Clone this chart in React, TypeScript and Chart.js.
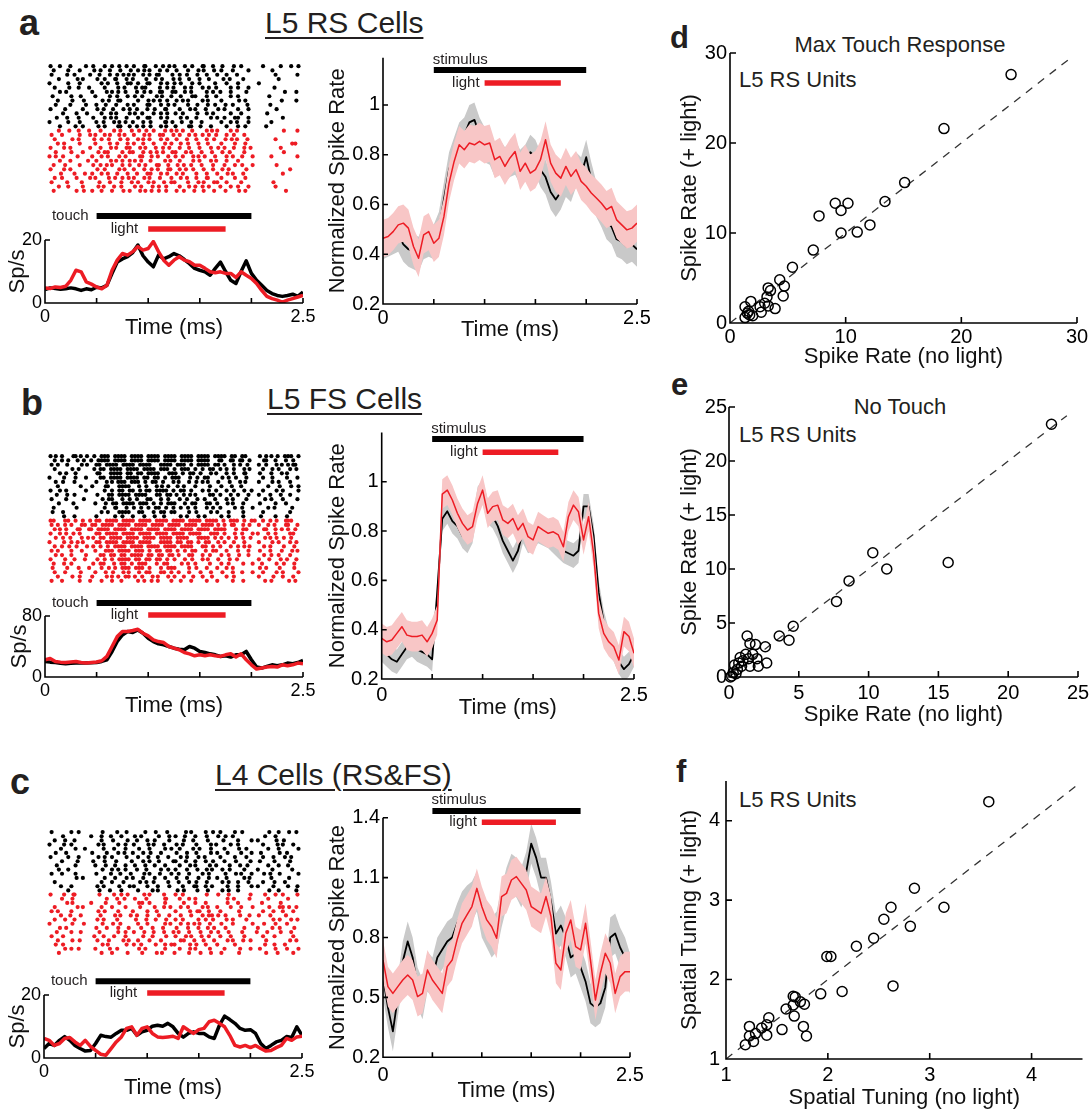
import React, { useEffect, useRef } from 'react';
import { Chart, registerables } from 'chart.js';

Chart.register(...registerables);

const FONT = "'Liberation Sans', Arial, Helvetica, sans-serif";
Chart.defaults.font.family = FONT;
Chart.defaults.color = '#000';

const RED = '#ed1c24';
const PINK = '#f8c6c6';
const GRAY = '#c9c9c9';

// ---------------- data ----------------
const TIME = Array.from({ length: 51 }, (_, i) => Math.round(i * 5) / 100); // 0 .. 2.5 grid
const T_END = 2.5;
const STIM_ON = 0.5;
const STIM_OFF = 2.0;
const LIGHT_ON = 1.0;
const LIGHT_OFF = 1.75;
const X_TICKS = [0, 0.5, 1, 1.5, 2, 2.5];

// raster rows: 60 time bins per trial; digit 1-4 = spike at that quarter of the bin
const RASTER_A_BLACK = [
  "2.3..1..4. 3..2.14.3. 2.41.3.24. 1.3.2.41.2 .3..2.1... .2...3..14",
  ".1..3..2.. 4.2.3..1.3 .24.1.3.2. 3..2.4.1.3 .2..1..4.. ...3......",
  "3...2.1..4 ..1.3.24.1 2.3.142..3 .2.1.3.4.. 2.3..1.... ....2....3",
  "..2...4.1. .3.2.41.3. 1..2.3.1.4 .2.3..1.2. .4.2..3... .....1....",
  "1...3..2.. ..3.1.2.43 .2.31.4.2. 13..2.1..4 ..3..2.... 2.........",
  ".2..4..1.3 ...2..3.1. 4.21..3.24 ..3.1.4.2. 1..3.2.4.. ....1.....",
  "..3.1..... 2..4.13.2. .14.2.31.3 2.3.1..4.2 .1.3...2.. ......3..2",
  "4....2.3.. .1..3.2.4. 3.2..4.1.2 .3..21.4.. 1..3.2.... ..4.......",
  "..1..3..2. ..4.2.31.. .2.4.13.2. 3.12..4.1. .2...3.1.. .....4...2",
  ".3...1..4. .2.3..1.4. 2..31.4.3. 1..2.3..14 ..2.1..3.. ...1......",
  "2..4....1. .3.1.2.4.2 .1.3.2.41. .2.4.1.3.. 3.1..2.4.. ....3.....",
  "...2..3..1 ..3.4.1..2 3.2..14.2. 2.1..3.4.2 ...3..1... ..2.......",
  ".4..2..1.. 3..24.1.3. .2.31.4.2. .3.1.2..4. 2.1.32.4.. ......1...",
  "1...3..2.. .2.1.34.2. 1.3.2..413 .4..1.3... .2.3.1.4.. ...2......",
  "..3...2.1. .4.2..31.2 .13.2.4.1. 2..31.2.4. ..3..2.1.. ..1.......",
];
const RASTER_A_RED = [
  "..2.4..1.3 ..2..3.1.4 .3.2.1.4.2 3.1.2..4.1 2..3.1.... ......2..3",
  "3..1...2.4 .1.23.4.1. 2.4.1.32.4 .2.3.14.2. 1.3.2.4... ..........",
  ".2...3.1.. 4.3.2..14. .23.1.4.2. 3..1.2.4.3 ..24.1.3.. ....2.....",
  "..13...2.. .1..3.2.4. 2.3..1.4.2 .3.2.4..1. .2..3..1.. ........21",
  "2..3.1...4 ..2.4.1.32 .4.1.3.24. .2.3..1.4. 3.1.2.4.2. .....3....",
  ".3...2..1. .4.21..3.2 1.3.24.2.3 2.4.1.3..1 .3.2..4... ......2...",
  "13.2..4... 2.3.1.4.2. .42.3.1.3. 2.1.34.2.4 ..3.1.2.4. ...2.....3",
  "..3..1...2 .2..4.13.2 3.1.2..4.1 .2..3.1.4. 1.3..2.... ..........",
  ".1.4...2.. 3.24.1.3.2 .3.1.42.3. 4.2.1.3..2 ..1.3.2.4. ....3.....",
  "2..3.1.... .3.2..4.1. 2.4.3.1.31 .24.3..1.2 .3.1...2.. .......4..",
  "..4...1.3. 2.3.1.2.4. .1.32.4.2. 3.1..2.4.. 2.4.1.3... ......1...",
  ".2.1..3..4 .1..24.3.1 2.4.1.3..2 .3.1.2.41. .2..3..1.. ..........",
  "3...2..4.. ..1.3..2.4 .2.4.1.3.2 1..2.4.1.3 2.3...1... ...4......",
  "..2.3...1. .4.1.3.2.. 3.1.4.2.1. .2.3.14.2. .1.3.2.4.. ....2.....",
  ".1....3.2. 2.3..1.4.2 .4.13.2.1. 3.2.4..1.3 ..2..3.1.. ......4...",
];
const RASTER_B_BLACK = [
  "23.1.423.1 4.32143214 3214321432 1432143214 32143.21.. 3.124.3214",
  ".2.13.4.2. 1432143214 3214321432 143214321. 42.3142.1. .31.2.4.3.",
  "3.1.2..4.1 .214321432 14321.4321 432.143214 3.1.24.3.. 2.1.34.231",
  ".2...3.1.. 4.21432143 214321432. 1432.14.32 .13.2.4.1. .2.3.1.4.2",
  "..3.1.2... .31.432143 .214321.43 2.143.2.4. 1.3.2.41.. 3..2.4.1..",
  "1..3..2.4. ..21432143 2143.214.3 21.4.3.21. .3.14..2.. .2.3...1.3",
  ".3.2..1... .2.4.13214 32.143.2.4 .1.3.24.1. 3..2.4.1.. 2..3.1.4..",
  "..1....3.. 2..31.4321 .3.2.4.13. 4.2..1..3. .2.4..1... ..3..2..14",
  "2.3.1...4. ...2.143.2 14.2143214 .32.1.4.2. 1.3.2.4.3. .2..3.1..4",
  ".4..2.1... .3..214321 4321.43.21 3.24.1..32 .1.3.2.4.. 2..1.3.4..",
  "3...1...2. ..4.21.3.2 .1.32.4.3. .2.1.3.2.4 ..3.1..2.. .4.2..1..3",
  "..2..4.... .1.3.21432 1432.14.32 1.3.21.43. 2.4.1.3... 3...2.4...",
  ".1....3... ...2.41.3. 2.14.32.14 .3.2.1.4.2 .1..3.2.4. ..3.1...2.",
  "4..2...... ..3.1.4321 .32..143.2 1..3.2..4. 2..1..3... .2.....4..",
  "...3..1... .2...4.3.. 1.4..2.3.. .3.1.4.2.. .2.1..3... 4...2..1..",
];
const RASTER_B_RED = [
  "21.43.2.14 .214321432 1432143214 3214321432 14.3214.32 .2.13.421.",
  "3.14.2.43. 2143214321 4321432143 2143214321 3.142.3.1. 2.3.1.42.3",
  ".23.1.42.3 1432143214 3214321432 1432143214 321.4.32.. .31.24.2.1",
  "2.3.14.2.. .214321432 1432143214 3214321.43 2.1.3.2.4. 1.3.2..43.",
  ".3.2.1.4.2 3.21432143 2143214321 4321.43214 .2.14.3.2. .4.13.2.1.",
  "1..3.24.1. .214321432 14321.4321 43.214.32. 3.1.2.4... 2..3.1.4.2",
  ".2.14.3..1 3.2.143214 3214321432 14321.43.2 .1.3.24.1. .3.1..2.4.",
  "3.1..2.4.. .1.3214321 432.143.21 4.3.21.3.2 1.3..2.4.. 3..1.4..23",
  ".3.1.2..4. ..2143.214 32143.2143 .1.32.4.3. .2.1.3.4.. .3.2.1.4..",
  "2..4..1.3. .3.2.14321 43.2143.2. 1.3.2.4.1. 3..2.1.... 2.4..3.1.2",
  ".1.3.2.... 3.21.3.214 .321.4.32. .4.2.1..3. .2.1..3.4. .1..3.2.4.",
  "4...2..1.3 ..3.24.321 432.1.4.32 1..3.2.4.. 2.3.1..... 3.1..2..4.",
  ".2.4...3.. .1.3.2.4.1 .3.21.43.2 .1.3..2.4. .3..1.2.4. .2..3.1..4",
  "..1..3.2.. 2..4.13.21 3.2.4.1.3. 1.2.3.4..1 ..3.2..... 2..4..1.3.",
  "3..1...2.4 ..3..1.2.. .24.3.1..2 .3..1..4.. 2...1.3... .4.2...3.1",
];
const RASTER_C_BLACK = [
  "3....2.1.. ..4...2.3. ...1.3..2. ..4.1..3.2 .1..3.2... ..4..1.3.2",
  "...2...... 1.3.4..2.. 3.1...2.4. 2.3..1.4.. 3.2.1..... .4..2.....",
  ".2.4..1... ..3..2..4. .1.3.2..4. ..2.3...1. .4...2..3. 1...3.2...",
  "1..3.2.... .4.1..3.2. 2..4.1.3.. 3.1..2..4. 1..3.2.... .2..4.1.3.",
  "..4...2.3. ...1.3..2. .3..1..4.2 .2..3.1.4. ..1..3.2.. ..3..1...4",
  ".3..1..... 2..4..3.1. 1.3.2.4... 3..1.2..4. 2.4...1.3. 4....2.1..",
  "2...3..1.. .4.2.1..3. .2.4..1.3. .3.1.4.2.. .1..3..2.. .2.4..3.1.",
  "...1..4... 3..2..1..4 ..3.1.2..4 2.4..1.3.2 ..1.4...2. 3...1..4..",
  ".4....2... .1.3.4..2. 3..1.2.4.. .2.4.1..3. 1..2.4.3.. ..3..1.2..",
  "..2.3..... ..4..13.2. .1.2..4.3. 2..1.3.4.1 .3.2..4... 1..3....2.",
  "3..1..2... .2..4..1.3 ..4.1.3..2 .1.3..4.2. ..2.4.1.3. .3.1.2...4",
  "......3.1. ...2.4..3. 1.3..2.4.. 3..1.4..2. 2.3...4.1. ...2...3..",
  ".2........ ..3..1.4.. .4.2.1..3. .1.3.2.4.. .3.1.2.4.. .2..1.3...",
  "..4..2.... .3.1..4..2 2..3..1.4. ..1.42.3.1 ..4..2..3. 1..4...2.3",
  "....3..... ..1.3..2.. .2..4.1... 4.2..3..1. .3.1.2.... ..4..1...2",
];
const RASTER_C_RED = [
  "2..3.41... ..1..3.24. ..4.1..3.. 2.1....4.. 3..1....2. .4..2.1..3",
  "...1.3.... ...4..2.1. 3..2...41. .2.3.1.... ..4.2...1. ..3....2..",
  "....23.... 1..3..4... .32.1..4.. ..2..1.3.. ..4..2.... .1...3....",
  ".2....4.1. ..3..1..2. .4...2.3.1 .3.2..4.1. 2..3..1.4. ..4..213.2",
  "3.1..2.... .4.2..3... 1..3.4.... 2..4.31.2. .1...3.... .2.4..1.3.",
  "..4..1.3.. ..2..4.1.3 .1.3..2.4. .3..1.4.21 3.2..4..1. 2..1..4...",
  ".2.4..1... .3.1..2... 4..2.3..1. 2.1..4.3.2 ..3.1..2.. ...4.2..13",
  "1....3..2. ..4..2.1.. .2.3...4.1 .3.24.1.3. .2..1...4. .3..2..1..",
  "..3.1..... .2.4..3..1 ..1.4..2.. 3..2.4..13 ..2...4... 1..3.2..4.",
  ".4...2.3.. ..1...3.2. 2.4..1.3.4 .1.3..2.4. 3..1..2..4 ..2..3..1.",
  "3..2...... 4..1.3..2. ..3.4...1. 2.4.1.3.2. .1.3..4... .2..1...3.",
  "..1..3.2.. .3..2..4.1 .2..1.4... .32.4..1.3 ..4.1.3.2. ..1....4.2",
  ".3.2...... ..4.1...3. 2.1..3.4.2 1..4.2.3.. 2...3..... .4..1.3...",
  "...4.2.1.. .1..3.2... .3.1...4.. .2.4.1..3. ..1..4..2. 3...2..1.4",
  "..2....... ..3..1..4. ..2..4.1.. 1..3..2.4. .2...3.... ..1.4...3.",
];

// PSTH (spikes/s) on TIME grid
const PSTH_A_BLACK = [4.3, 4.8, 4.6, 4.4, 4.5, 4.8, 4.5, 4.0, 4.5, 4.2, 5.0, 4.8, 5.6, 9.4, 13, 14, 14.7, 16, 18.4, 15, 13, 11.5, 15.2, 14, 14.7, 15.7, 15, 13.8, 12.5, 11, 10.4, 9.9, 8.8, 11, 13, 10, 7.2, 6.2, 10, 13.4, 9.4, 7.2, 5.6, 4, 3, 2.4, 2.1, 2.4, 2.8, 2.1, 3.5];
const PSTH_A_RED = [4.8, 4.6, 5.1, 4.9, 5.3, 7.2, 10.4, 9.9, 6.7, 6, 5.1, 4.5, 5.6, 10.4, 13.6, 15.7, 15.2, 16.3, 17.9, 16.8, 17.3, 19.5, 16.3, 13.6, 12, 13.6, 14.7, 13.6, 13.1, 12, 12, 11, 9.9, 9.6, 9.9, 9.4, 9.4, 8.1, 9.9, 8.8, 7.8, 6.2, 4, 2.1, 1.4, 0.9, 0.3, 0.9, 1.4, 1.9, 2.4];
const PSTH_B_BLACK = [20.4, 19.5, 19, 18, 17.4, 18, 18.3, 18.5, 18.3, 18.8, 19, 20.4, 22.6, 33.5, 46.5, 55.2, 59.6, 58.3, 61.7, 57.4, 50.9, 46.5, 43.5, 42.2, 40, 37.8, 36.5, 35.7, 40, 37.8, 33.5, 32.2, 30.4, 29.1, 27, 27.8, 26.1, 29.1, 29.1, 33.5, 22.6, 13, 11.7, 13.9, 16, 14.8, 16, 18.3, 17.4, 19, 21.7];
const PSTH_B_RED = [22.6, 24.3, 20.4, 19.5, 19, 19.8, 20.4, 19, 18.3, 19, 19.6, 21.3, 27, 40, 53, 59.6, 59.6, 60.9, 62.6, 57.4, 53.9, 48.7, 46.5, 45.2, 40, 37.8, 35.7, 32.2, 30.4, 27.8, 29.1, 27.8, 29.1, 27.8, 27, 29.1, 30.4, 26.1, 30.4, 22.6, 16, 10.4, 11.7, 13, 13.9, 13, 16, 14.8, 16, 18.3, 17.4];
const PSTH_C_BLACK = [3, 4.6, 4, 5.6, 6.8, 5.6, 4, 3, 2.2, 2.4, 4.6, 7.2, 6.8, 6.6, 7.8, 8.8, 8.8, 9.4, 7.2, 8.3, 8.8, 10.1, 10.4, 10.1, 11, 9.9, 7.8, 6.6, 7.8, 8.3, 7.8, 7.8, 6.7, 6.2, 10.4, 13.3, 12.2, 11, 9.4, 8.8, 9, 7.8, 4.6, 3, 4, 5.1, 5.6, 6.8, 6.5, 9.9, 7.2];
const PSTH_C_RED = [6.2, 5.6, 4, 4.6, 6.2, 6.5, 5.1, 4, 5.6, 3.7, 2.4, 1.2, 0.9, 3, 5.1, 6.7, 9.4, 9.9, 7.2, 9.4, 9.9, 7.8, 6.7, 6.5, 6.7, 6.9, 6.2, 9.9, 8.8, 7.8, 9, 9.4, 11.5, 12, 11, 9.9, 7.2, 4, 3.5, 4, 3.3, 4, 3, 2.2, 2.4, 3.3, 4, 6.2, 5.6, 6.7, 6.9];

// normalized population rate on TIME grid
const NORM_A_BLACK = [0.45, 0.46, 0.47, 0.48, 0.44, 0.42, 0.41, 0.40, 0.45, 0.46, 0.45, 0.50, 0.62, 0.74, 0.80, 0.86, 0.88, 0.93, 0.94, 0.88, 0.84, 0.83, 0.78, 0.79, 0.76, 0.78, 0.79, 0.75, 0.77, 0.81, 0.79, 0.74, 0.71, 0.65, 0.62, 0.65, 0.70, 0.68, 0.74, 0.72, 0.79, 0.70, 0.62, 0.58, 0.53, 0.51, 0.46, 0.45, 0.43, 0.44, 0.42];
const NORM_A_RED = [0.464, 0.471, 0.491, 0.518, 0.525, 0.505, 0.431, 0.384, 0.478, 0.491, 0.444, 0.464, 0.552, 0.686, 0.773, 0.840, 0.820, 0.847, 0.840, 0.854, 0.840, 0.847, 0.780, 0.793, 0.753, 0.787, 0.813, 0.733, 0.766, 0.726, 0.740, 0.780, 0.860, 0.766, 0.726, 0.706, 0.753, 0.713, 0.740, 0.693, 0.673, 0.646, 0.626, 0.605, 0.579, 0.592, 0.538, 0.518, 0.498, 0.505, 0.525];
const NORM_B_BLACK = [0.32, 0.30, 0.28, 0.27, 0.30, 0.33, 0.34, 0.32, 0.31, 0.30, 0.28, 0.55, 0.85, 0.88, 0.84, 0.82, 0.78, 0.76, 0.80, 0.93, 0.96, 0.88, 0.86, 0.82, 0.76, 0.72, 0.68, 0.72, 0.80, 0.76, 0.77, 0.80, 0.79, 0.78, 0.76, 0.74, 0.72, 0.71, 0.70, 0.72, 0.90, 0.90, 0.78, 0.55, 0.43, 0.35, 0.32, 0.27, 0.24, 0.26, 0.30];
const NORM_B_RED = [0.365, 0.351, 0.358, 0.385, 0.412, 0.378, 0.372, 0.372, 0.378, 0.351, 0.385, 0.439, 0.95, 0.966, 0.926, 0.872, 0.831, 0.804, 0.818, 0.912, 0.966, 0.872, 0.899, 0.905, 0.845, 0.831, 0.851, 0.804, 0.831, 0.777, 0.764, 0.818, 0.804, 0.791, 0.797, 0.784, 0.736, 0.858, 0.905, 0.878, 0.764, 0.858, 0.709, 0.466, 0.385, 0.351, 0.331, 0.277, 0.392, 0.372, 0.304];
const NORM_C_BLACK = [0.60, 0.45, 0.33, 0.50, 0.68, 0.78, 0.70, 0.55, 0.49, 0.63, 0.60, 0.70, 0.74, 0.78, 0.80, 0.87, 0.93, 0.96, 0.98, 1.03, 0.90, 0.85, 0.80, 0.83, 0.95, 1.05, 1.12, 1.10, 1.05, 1.13, 1.27, 1.20, 1.10, 1.10, 0.98, 0.82, 0.86, 0.80, 0.70, 0.72, 0.65, 0.58, 0.47, 0.45, 0.47, 0.55, 0.80, 0.82, 0.75, 0.70, 0.62];
const NORM_C_RED = [0.687, 0.554, 0.52, 0.554, 0.587, 0.612, 0.587, 0.504, 0.52, 0.637, 0.587, 0.554, 0.52, 0.654, 0.687, 0.788, 0.871, 0.913, 0.955, 1.046, 0.955, 0.888, 0.854, 0.796, 1.005, 1.021, 1.088, 1.105, 1.071, 1.038, 0.955, 0.938, 0.921, 1.005, 0.905, 0.671, 0.637, 0.821, 0.888, 0.754, 0.738, 0.871, 0.687, 0.487, 0.621, 0.721, 0.671, 0.52, 0.604, 0.629, 0.629];
// s.e.m. half-widths of the shaded bands
const SEM_A = { black: 0.07, red: 0.075 };
const SEM_B = { black: 0.05, red: 0.06 };
const SEM_C = { black: 0.1, red: 0.1 };

// scatter panels
const D_NO_LIGHT = [24.3, 18.5, 15.1, 13.4, 12.1, 11.0, 9.6, 10.2, 9.1, 9.6, 7.7, 7.2, 5.4, 4.3, 4.7, 4.6, 3.3, 3.5, 3.2, 3.0, 3.9, 3.3, 2.6, 1.8, 1.3, 1.6, 1.7, 1.96, 1.3, 1.5, 2.7];
const D_LIGHT = [27.6, 21.6, 15.6, 13.5, 10.9, 10.1, 10.0, 13.3, 13.3, 12.5, 11.9, 8.1, 6.2, 4.8, 4.1, 3.0, 3.9, 3.6, 2.9, 2.2, 1.6, 1.9, 1.8, 2.4, 1.8, 1.3, 0.9, 0.8, 0.6, 1.1, 1.2];
const E_NO_LIGHT = [23.1, 15.7, 10.3, 11.3, 8.6, 7.7, 4.6, 3.6, 4.3, 1.3, 1.5, 1.9, 2.6, 2.7, 2.1, 1.5, 1.7, 1.2, 0.8, 1.0, 0.4, 0.6, 0.3, 0.2, 0.7, 0.5, 1.4, 0.1, 2.0, 0.9];
const E_LIGHT = [23.4, 10.6, 11.5, 10.0, 8.9, 7.0, 4.7, 3.8, 3.4, 3.8, 3.1, 3.0, 2.8, 1.3, 1.0, 1.0, 2.1, 2.1, 1.8, 1.5, 1.1, 0.7, 0.4, 0.1, 1.3, 0.3, 1.7, 0.0, 1.7, 1.0];
const F_NO_LIGHT = [3.58, 2.85, 2.62, 3.14, 2.55, 2.81, 2.45, 2.28, 1.99, 2.03, 2.64, 2.14, 1.93, 1.66, 1.68, 1.59, 1.66, 1.73, 1.77, 1.67, 1.42, 1.76, 1.79, 1.55, 1.40, 1.35, 1.40, 1.29, 1.23, 1.23, 1.27, 1.19];
const F_LIGHT = [4.24, 3.15, 2.91, 2.91, 2.76, 2.67, 2.52, 2.42, 2.29, 2.29, 1.92, 1.85, 1.82, 1.79, 1.78, 1.63, 1.68, 1.72, 1.69, 1.54, 1.52, 1.41, 1.29, 1.37, 1.43, 1.39, 1.30, 1.32, 1.41, 1.29, 1.22, 1.18];

// ---------------- helpers ----------------
type Geo = { x: number; y: number; w: number; h: number; l: number; t: number; r: number; b: number };

function frame(g: Geo) {
  const left = Math.round(g.x - g.l);
  const top = Math.round(g.y - g.t);
  const L = g.x - left;
  const T = g.y - top;
  const W = Math.ceil(L + g.w + g.r);
  const H = Math.ceil(T + g.h + g.b);
  return { left, top, L, T, W, H, R: W - L - g.w, B: H - T - g.h };
}

function Plot({ g, build }: { g: Geo; build: (f: any) => any }) {
  const ref = useRef<HTMLCanvasElement>(null);
  const f = frame(g);
  useEffect(() => {
    const chart = new Chart(ref.current as HTMLCanvasElement, build(f));
    return () => chart.destroy();
  }, []);
  return (
    <canvas
      ref={ref}
      width={f.W}
      height={f.H}
      style={{ position: 'absolute', left: f.left, top: f.top, width: f.W, height: f.H }}
    />
  );
}

function baseOpts(padding: any, scales: any) {
  return {
    animation: false,
    responsive: false,
    maintainAspectRatio: false,
    devicePixelRatio: 1,
    events: [],
    layout: { padding },
    plugins: { legend: { display: false }, tooltip: { enabled: false }, title: { display: false } },
    scales,
  };
}

type AxisSpec = { min: number; max: number; ticks: number[]; fmt: (v: number) => string; title: string; pad: number; size: number };

function axis(s: AxisSpec, pos: 'x' | 'y', fit: number) {
  return {
    type: 'linear',
    position: pos === 'x' ? 'bottom' : 'left',
    min: s.min,
    max: s.max,
    bounds: 'data',
    grid: { display: false, drawTicks: false },
    border: { display: false },
    ticks: {
      autoSkip: false,
      maxRotation: 0,
      minRotation: 0,
      padding: s.pad,
      color: '#000',
      font: { size: s.size, lineHeight: 1.2 },
      callback: (v: any) => s.fmt(Number(v)),
    },
    afterBuildTicks: (sc: any) => {
      sc.ticks = s.ticks.map((v) => ({ value: v }));
    },
    afterFit: (sc: any) => {
      if (pos === 'x') sc.height = fit;
      else sc.width = fit;
    },
    title: { display: true, text: s.title, color: '#111', padding: 0, font: { size: 22, lineHeight: 1.2 } },
  };
}

function axesPlugin(o: any) {
  return {
    id: 'matlabAxes',
    afterDatasetsDraw(chart: any) {
      const ctx = chart.ctx;
      const X = (v: number) => chart.scales.x.getPixelForValue(v);
      const Y = (v: number) => chart.scales.y.getPixelForValue(v);
      const ox = X(o.x0);
      const oy = Y(o.y0);
      ctx.save();
      ctx.strokeStyle = '#000';
      ctx.lineWidth = 1.6;
      ctx.beginPath();
      ctx.moveTo(ox, Y(o.y1));
      ctx.lineTo(ox, oy);
      ctx.lineTo(X(o.x1), oy);
      o.xt.forEach((v: number) => {
        ctx.moveTo(X(v), oy);
        ctx.lineTo(X(v), oy - o.tl);
      });
      o.yt.forEach((v: number) => {
        ctx.moveTo(ox, Y(v));
        ctx.lineTo(ox + o.tl, Y(v));
      });
      ctx.stroke();
      (o.notes || []).forEach((n: any) => {
        ctx.font = `15px ${FONT}`;
        ctx.fillStyle = '#231f20';
        ctx.textAlign = n.align;
        ctx.textBaseline = 'middle';
        ctx.fillText(n.text, X(n.x) + n.dx, Y(n.y));
      });
      ctx.restore();
    },
  };
}

const lineDs = (ys: number[], color: string, width: number, order: number) => ({
  type: 'line',
  data: TIME.map((x, i) => ({ x, y: ys[i] })),
  borderColor: color,
  borderWidth: width,
  borderJoinStyle: 'round',
  pointRadius: 0,
  tension: 0,
  fill: false,
  order,
});

const bandDs = (ys: number[], color: string, order: number, fill: any) => ({
  type: 'line',
  data: TIME.map((x, i) => ({ x, y: ys[i] })),
  borderWidth: 0,
  borderColor: 'rgba(0,0,0,0)',
  backgroundColor: color,
  pointRadius: 0,
  tension: 0,
  fill,
  order,
});

const barDs = (from: number, to: number, y: number, color: string, w: number) => ({
  type: 'line',
  data: [{ x: from, y }, { x: to, y }],
  borderColor: color,
  borderWidth: w,
  borderCapStyle: 'butt',
  pointRadius: 0,
  fill: false,
  clip: false,
  order: -1,
});

const fmtTime = (v: number) => (v === 0 ? '0' : v === 2.5 ? '2.5' : '');

function rasterPoints(rows: string[], offset: number) {
  const pts: { x: number; y: number }[] = [];
  rows.forEach((row, i) => {
    const s = row.replace(/ /g, '');
    for (let c = 0; c < s.length; c++) {
      const d = '1234'.indexOf(s[c]);
      if (d >= 0) pts.push({ x: ((c + (d + 0.5) / 4) / 60) * T_END, y: i + offset });
    }
  });
  return pts;
}

function rasterBuild(black: string[], red: string[]) {
  return (f: any) => ({
    type: 'scatter',
    data: {
      datasets: [
        { data: rasterPoints(black, 0), pointRadius: 2.1, pointBorderWidth: 0, backgroundColor: '#000', borderColor: '#000', clip: false },
        { data: rasterPoints(red, black.length), pointRadius: 2.1, pointBorderWidth: 0, backgroundColor: RED, borderColor: RED, clip: false },
      ],
    },
    options: baseOpts({ left: f.L, top: f.T, right: f.R, bottom: f.B }, {
      x: { type: 'linear', display: false, min: 0, max: T_END },
      y: { type: 'linear', display: false, min: -0.5, max: black.length + red.length - 0.5, reverse: true },
    }),
  });
}

function psthBuild(p: { black: number[]; red: number[]; ymax: number; yt: number[]; touchY: number; lightY: number }) {
  return (f: any) => ({
    type: 'line',
    data: {
      datasets: [
        lineDs(p.red, RED, 3.5, 0),
        lineDs(p.black, '#000', 3.5, 1),
        barDs(STIM_ON, STIM_OFF, p.touchY, '#000', 6),
        barDs(LIGHT_ON, LIGHT_OFF, p.lightY, RED, 5.5),
      ],
    },
    options: baseOpts({ left: 0, top: f.T, right: f.R, bottom: 0 }, {
      x: axis({ min: 0, max: T_END, ticks: X_TICKS, fmt: fmtTime, title: 'Time (ms)', pad: 3, size: 18 }, 'x', f.B),
      y: axis({ min: 0, max: p.ymax, ticks: p.yt, fmt: (v) => String(v), title: 'Sp/s', pad: 3, size: 18 }, 'y', f.L),
    }),
    plugins: [
      axesPlugin({
        x0: 0, x1: T_END, y0: 0, y1: p.ymax, xt: X_TICKS, yt: p.yt, tl: 5,
        notes: [
          { text: 'touch', x: STIM_ON, y: p.touchY, dx: -8, align: 'right' },
          { text: 'light', x: LIGHT_ON, y: p.lightY, dx: -10, align: 'right' },
        ],
      }),
    ],
  });
}

function normBuild(p: {
  black: number[]; red: number[]; sem: { black: number; red: number }; ymax: number; yt: number[];
  stimY: number; lightY: number; textY: number; xpad: number;
}) {
  const fmtY = (v: number) => (v === 1 ? '1' : v.toFixed(1));
  return (f: any) => ({
    type: 'line',
    data: {
      datasets: [
        lineDs(p.red, RED, 1.5, 0),
        bandDs(p.red.map((v) => v + p.sem.red), PINK, 1, false),
        bandDs(p.red.map((v) => v - p.sem.red), PINK, 1, '-1'),
        lineDs(p.black, '#000', 1.8, 2),
        bandDs(p.black.map((v) => v + p.sem.black), GRAY, 3, false),
        bandDs(p.black.map((v) => v - p.sem.black), GRAY, 3, '-1'),
        barDs(STIM_ON, STIM_OFF, p.stimY, '#000', 6),
        barDs(LIGHT_ON, LIGHT_OFF, p.lightY, RED, 5.5),
      ],
    },
    options: baseOpts({ left: 0, top: f.T, right: f.R, bottom: 0 }, {
      x: axis({ min: 0, max: T_END, ticks: X_TICKS, fmt: fmtTime, title: 'Time (ms)', pad: p.xpad, size: 20 }, 'x', f.B),
      y: axis({ min: 0.2, max: p.ymax, ticks: p.yt, fmt: fmtY, title: 'Normalized Spike Rate', pad: 3, size: 20 }, 'y', f.L),
    }),
    plugins: [
      axesPlugin({
        x0: 0, x1: T_END, y0: 0.2, y1: p.ymax, xt: X_TICKS, yt: p.yt, tl: 5,
        notes: [
          { text: 'stimulus', x: STIM_ON, y: p.textY, dx: -1, align: 'left' },
          { text: 'light', x: LIGHT_ON, y: p.lightY, dx: -5, align: 'right' },
        ],
      }),
    ],
  });
}

function scatterBuild(p: {
  xs: number[]; ys: number[]; min: number; max: number; ticks: number[]; diagEnd: number;
  xTitle: string; yTitle: string; xpad: number; ypad: number;
}) {
  return (f: any) => ({
    type: 'scatter',
    data: {
      datasets: [
        {
          type: 'scatter',
          data: p.xs.map((x, i) => ({ x, y: p.ys[i] })),
          pointRadius: 5,
          pointBorderWidth: 1.5,
          borderColor: '#000',
          backgroundColor: 'rgba(0,0,0,0)',
          clip: false,
          order: 0,
        },
        {
          type: 'line',
          data: [{ x: p.min, y: p.min }, { x: p.diagEnd, y: p.diagEnd }],
          borderColor: '#333',
          borderWidth: 1.3,
          borderDash: [8, 7],
          pointRadius: 0,
          fill: false,
          order: 1,
        },
      ],
    },
    options: baseOpts({ left: 0, top: f.T, right: f.R, bottom: 0 }, {
      x: axis({ min: p.min, max: p.max, ticks: p.ticks, fmt: (v) => String(v), title: p.xTitle, pad: p.xpad, size: 20 }, 'x', f.B),
      y: axis({ min: p.min, max: p.max, ticks: p.ticks, fmt: (v) => String(v), title: p.yTitle, pad: p.ypad, size: 20 }, 'y', f.L),
    }),
    plugins: [axesPlugin({ x0: p.min, x1: p.max, y0: p.min, y1: p.max, xt: p.ticks, yt: p.ticks, tl: 6 })],
  });
}

function Txt(props: { x: number; base: number; size: number; bold?: boolean; center?: boolean; underline?: boolean; children: any }) {
  const { x, base, size, bold, center, underline, children } = props;
  const top = base - 0.8465 * size;
  return (
    <div
      style={{
        position: 'absolute',
        left: center ? x - 300 : x,
        width: center ? 600 : undefined,
        textAlign: center ? 'center' : 'left',
        top,
        fontSize: size,
        lineHeight: `${size}px`,
        fontFamily: FONT,
        fontWeight: bold ? 700 : 400,
        color: '#231f20',
        whiteSpace: 'nowrap',
        textDecoration: underline ? 'underline' : 'none',
        textDecorationThickness: underline ? '1.5px' : undefined,
        textUnderlineOffset: underline ? '4px' : undefined,
      }}
    >
      {children}
    </div>
  );
}

export default function App() {
  return (
    <div style={{ position: 'absolute', left: 0, top: 0, width: 1089, height: 1116, overflow: 'hidden', background: '#fff' }}>
      <Txt x={19} base={35} size={36} bold>a</Txt>
      <Txt x={21} base={415} size={36} bold>b</Txt>
      <Txt x={10} base={794} size={36} bold>c</Txt>
      <Txt x={670} base={48} size={31} bold>d</Txt>
      <Txt x={671} base={395} size={31} bold>e</Txt>
      <Txt x={676} base={782} size={31} bold>f</Txt>
      <Txt x={265} base={33} size={30} underline>L5 RS Cells</Txt>
      <Txt x={267} base={409} size={30} underline>L5 FS Cells</Txt>
      <Txt x={215} base={785} size={30} underline>L4 Cells (RS&amp;FS)</Txt>
      <Txt x={900} base={53} size={22} center>Max Touch Response</Txt>
      <Txt x={739} base={88} size={22}>L5 RS Units</Txt>
      <Txt x={900} base={415} size={22} center>No Touch</Txt>
      <Txt x={739} base={443} size={22}>L5 RS Units</Txt>
      <Txt x={739} base={808} size={22}>L5 RS Units</Txt>

      {/* rasters */}
      <Plot g={{ x: 45, y: 60, w: 258, h: 137, l: 0, t: 0, r: 0, b: 0 }} build={rasterBuild(RASTER_A_BLACK, RASTER_A_RED)} />
      <Plot g={{ x: 45, y: 450, w: 258, h: 137, l: 0, t: 0, r: 0, b: 0 }} build={rasterBuild(RASTER_B_BLACK, RASTER_B_RED)} />
      <Plot g={{ x: 45, y: 826, w: 258, h: 133, l: 0, t: 0, r: 0, b: 0 }} build={rasterBuild(RASTER_C_BLACK, RASTER_C_RED)} />

      {/* PSTHs */}
      <Plot
        g={{ x: 45, y: 240, w: 258, h: 63, l: 40, t: 38, r: 16, b: 38 }}
        build={psthBuild({ black: PSTH_A_BLACK, red: PSTH_A_RED, ymax: 20, yt: [0, 20], touchY: 27.6, lightY: 23.5 })}
      />
      <Plot
        g={{ x: 45, y: 616, w: 258, h: 61, l: 38, t: 26, r: 16, b: 42 }}
        build={psthBuild({ black: PSTH_B_BLACK, red: PSTH_B_RED, ymax: 80, yt: [0, 80], touchY: 97, lightY: 81.3 })}
      />
      <Plot
        g={{ x: 44, y: 995, w: 258, h: 63, l: 39, t: 29, r: 16, b: 43 }}
        build={psthBuild({ black: PSTH_C_BLACK, red: PSTH_C_RED, ymax: 20, yt: [0, 20], touchY: 24.4, lightY: 20.6 })}
      />

      {/* normalized population rates */}
      <Plot
        g={{ x: 383, y: 57.7, w: 254, h: 246.3, l: 58, t: 16, r: 20, b: 39 }}
        build={normBuild({ black: NORM_A_BLACK, red: NORM_A_RED, sem: SEM_A, ymax: 1.19, yt: [0.2, 0.4, 0.6, 0.8, 1], stimY: 1.141, lightY: 1.088, textY: 1.181, xpad: 2 })}
      />
      <Plot
        g={{ x: 381.7, y: 432.4, w: 252.3, h: 246.6, l: 56.5, t: 18, r: 20, b: 42 }}
        build={normBuild({ black: NORM_B_BLACK, red: NORM_B_RED, sem: SEM_B, ymax: 1.2, yt: [0.2, 0.4, 0.6, 0.8, 1], stimY: 1.173, lightY: 1.12, textY: 1.214, xpad: 4 })}
      />
      <Plot
        g={{ x: 383, y: 817.7, w: 247, h: 239.6, l: 58, t: 30, r: 20, b: 46 }}
        build={normBuild({ black: NORM_C_BLACK, red: NORM_C_RED, sem: SEM_C, ymax: 1.4, yt: [0.2, 0.5, 0.8, 1.1, 1.4], stimY: 1.433, lightY: 1.377, textY: 1.488, xpad: 6 })}
      />

      {/* scatter panels */}
      <Plot
        g={{ x: 730, y: 53, w: 347, h: 270, l: 53, t: 16, r: 14, b: 47 }}
        build={scatterBuild({ xs: D_NO_LIGHT, ys: D_LIGHT, min: 0, max: 30, ticks: [0, 10, 20, 30], diagEnd: 29.3, xTitle: 'Spike Rate (no light)', yTitle: 'Spike Rate (+ light)', xpad: 2, ypad: 3 })}
      />
      <Plot
        g={{ x: 729, y: 407, w: 349, h: 270, l: 52, t: 16, r: 16, b: 51 }}
        build={scatterBuild({ xs: E_NO_LIGHT, ys: E_LIGHT, min: 0, max: 25, ticks: [0, 5, 10, 15, 20, 25], diagEnd: 24.2, xTitle: 'Spike Rate (no light)', yTitle: 'Spike Rate (+ light)', xpad: 4, ypad: 2 })}
      />
      <Plot
        g={{ x: 726, y: 779, w: 358, h: 280, l: 49, t: 16, r: 5, b: 52 }}
        build={scatterBuild({ xs: F_NO_LIGHT, ys: F_LIGHT, min: 1, max: 4.5, ticks: [1, 2, 3, 4], diagEnd: 4.46, xTitle: 'Spatial Tuning (no light)', yTitle: 'Spatial Tuning (+ light)', xpad: 4, ypad: 6 })}
      />
    </div>
  );
}
